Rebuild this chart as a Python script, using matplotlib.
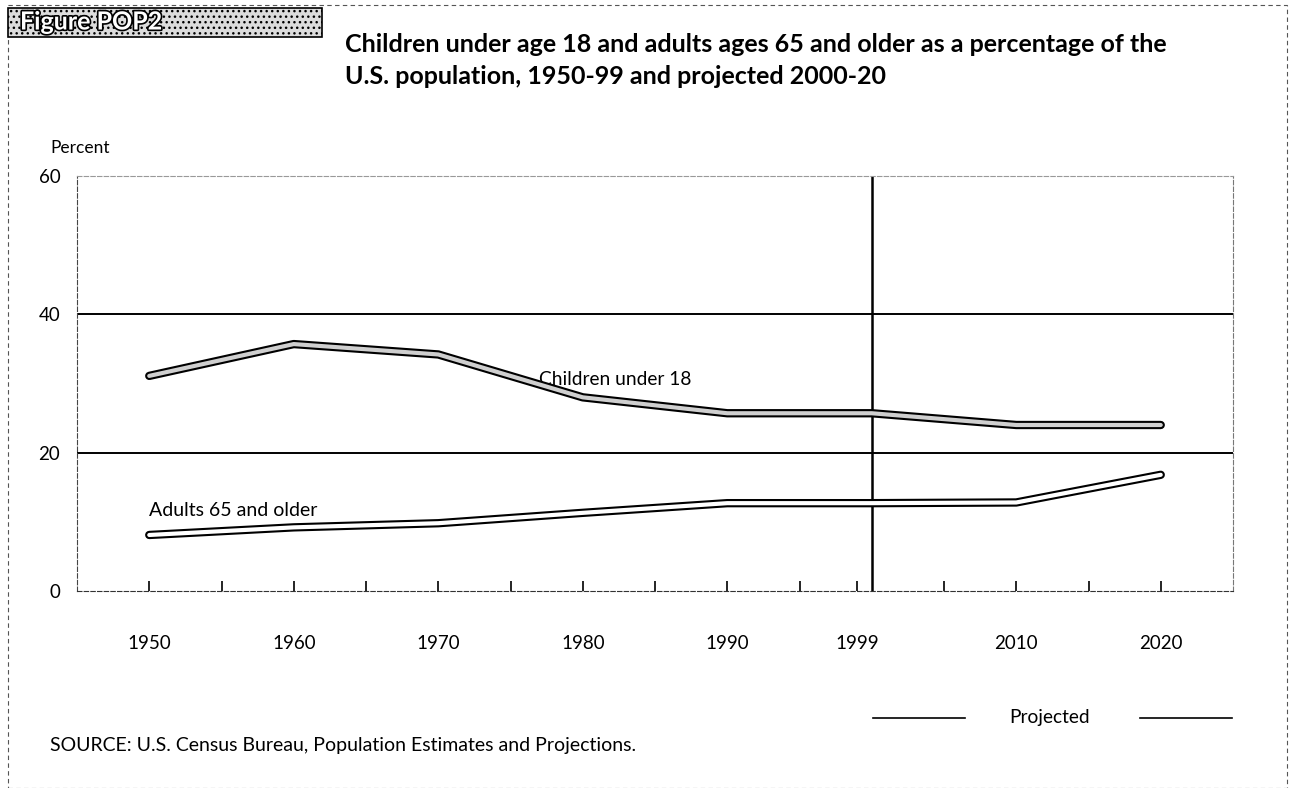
import numpy as np
import matplotlib
matplotlib.use("Agg")
import matplotlib.pyplot as plt
import matplotlib.patheffects as pe
from matplotlib.patches import Rectangle

plt.rcParams['font.family'] = ['Lato', 'DejaVu Sans']

# data (percent of U.S. population)
years = [1950, 1960, 1970, 1980, 1990, 1999, 2000, 2010, 2020]
children = [31.1, 35.7, 34.2, 28.0, 25.7, 25.7, 25.7, 24.0, 24.0]
adults = [8.1, 9.2, 9.8, 11.3, 12.7, 12.7, 12.7, 12.8, 16.8]
tick_years = [1950, 1960, 1970, 1980, 1990, 1999, 2010, 2020]
minor_years = [1955, 1965, 1975, 1985, 1995, 2005, 2015]
y_ticks = [0, 20, 40, 60]

W, H = 1292, 788
fig = plt.figure(figsize=(W / 100, H / 100), dpi=100)

def fx(px):
    return px / W

def fy(py):
    return 1 - py / H

# outer dashed frame
fig.patches.append(Rectangle((fx(8), 0.0), fx(1287) - fx(8), fy(5), transform=fig.transFigure,
                             fill=False, ec='#555555', lw=0.8, ls=(0, (4, 3))))

# "Figure POP2" badge
fig.patches.append(Rectangle((fx(8), fy(37)), fx(322) - fx(8), fy(8) - fy(37), transform=fig.transFigure,
                             fc='#dcdcdc', ec='black', lw=1.2, hatch='...'))
fig.text(fx(20), fy(22), 'Figure POP2', fontsize=18, fontweight='bold', color='white', va='center',
         path_effects=[pe.withStroke(linewidth=2.4, foreground='black')])

fig.text(fx(345), fy(45), 'Children under age 18 and adults ages 65 and older as a percentage of the',
         fontsize=18, fontweight='bold', va='center')
fig.text(fx(345), fy(76), 'U.S. population, 1950-99 and projected 2000-20',
         fontsize=18, fontweight='bold', va='center')
fig.text(fx(50), fy(148), 'Percent', fontsize=12.5, va='center')

ax = fig.add_axes([fx(77), fy(591), fx(1233) - fx(77), fy(176) - fy(591)])
ax.set_xlim(1945, 2025)
ax.set_ylim(0, 60)

for s in ['left', 'right', 'top', 'bottom']:
    ax.spines[s].set_linestyle((0, (4, 2)))
    ax.spines[s].set_linewidth(0.8)
ax.spines['right'].set_color('#777777')
ax.spines['top'].set_color('#999999')
ax.spines['left'].set_color('#444444')
ax.spines['bottom'].set_color('#333333')

for yv in [20, 40]:
    ax.axhline(yv, color='black', lw=1.4, zorder=1)
ax.axvline(2000, color='black', lw=1.8, zorder=1)

# double-line series
ax.plot(years, children, color='black', lw=6.0, solid_capstyle='round', solid_joinstyle='round', zorder=3)
ax.plot(years, children, color='#cfcfcf', lw=3.0, solid_capstyle='round', solid_joinstyle='round', zorder=4)
ax.plot(years, adults, color='black', lw=6.0, solid_capstyle='round', solid_joinstyle='round', zorder=3)
ax.plot(years, adults, color='white', lw=3.0, solid_capstyle='round', solid_joinstyle='round', zorder=4)

ax.text(1977, 30.6, 'Children under 18', fontsize=13.8, va='center', ha='left')
ax.text(1950, 11.6, 'Adults 65 and older', fontsize=14, va='center', ha='left')

ax.set_xticks(tick_years)
ax.set_xticklabels([str(y) for y in tick_years], fontsize=13.5)
ax.set_xticks(minor_years, minor=True)
ax.tick_params(axis='x', which='both', direction='in', length=7, width=1.2, pad=32)
ax.set_yticks(y_ticks)
ax.set_yticklabels([str(v) for v in y_ticks], fontsize=13.5)
ax.tick_params(axis='y', length=0, pad=12)

# projected marker
fig.add_artist(plt.Line2D([fx(873), fx(965)], [fy(718), fy(718)], color='black', lw=1.2))
fig.add_artist(plt.Line2D([fx(1140), fx(1232)], [fy(718), fy(718)], color='black', lw=1.2))
fig.text(fx(1050), fy(718), 'Projected', fontsize=13.8, ha='center', va='center')

fig.text(fx(50), fy(746), 'SOURCE: U.S. Census Bureau, Population Estimates and Projections.',
         fontsize=14, va='center')

fig.savefig('out.png', dpi=100)
